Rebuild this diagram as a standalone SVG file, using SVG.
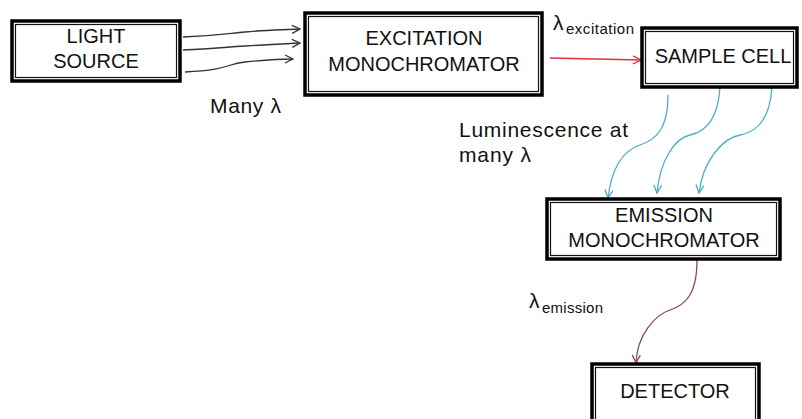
<svg xmlns="http://www.w3.org/2000/svg" width="802" height="419" viewBox="0 0 802 419">
<style>
.outer{fill:#fff;stroke:#000;stroke-width:3.5}
.inner{fill:none;stroke:#111;stroke-width:1.2}
text{font-family:"Liberation Sans",Arial,sans-serif;fill:#111}
.lbl{font-size:20px;text-anchor:middle}
.note{font-size:21px}
.lam{font-size:21px}
.sub{font-size:15px}
.c{fill:none;stroke-width:1.3}
</style>
<defs>
<marker id="ak" viewBox="0 0 10 10" refX="9" refY="5" markerWidth="10" markerHeight="10" markerUnits="userSpaceOnUse" orient="auto"><path d="M1,1 L9,5 L1,9" fill="none" stroke="#333" stroke-width="1.3"/></marker>
<marker id="ar" viewBox="0 0 10 10" refX="9" refY="5" markerWidth="10" markerHeight="10" markerUnits="userSpaceOnUse" orient="auto"><path d="M1,1 L9,5 L1,9" fill="none" stroke="#e0323c" stroke-width="1.3"/></marker>
<marker id="ab" viewBox="0 0 10 10" refX="9" refY="5" markerWidth="10" markerHeight="10" markerUnits="userSpaceOnUse" orient="auto"><path d="M1,1 L9,5 L1,9" fill="none" stroke="#4badc6" stroke-width="1.3"/></marker>
<marker id="am" viewBox="0 0 10 10" refX="9" refY="5" markerWidth="10" markerHeight="10" markerUnits="userSpaceOnUse" orient="auto"><path d="M1,1 L9,5 L1,9" fill="none" stroke="#8a4b5a" stroke-width="1.3"/></marker>
</defs>

<g id="connectors">
<path class="c" stroke="#333" marker-end="url(#ak)" d="M183,37 C215,36 225,34 245,32 S280,30 300,29"/>
<path class="c" stroke="#333" marker-end="url(#ak)" d="M183,50 C215,49 225,47 245,46 S280,44 300,43"/>
<path class="c" stroke="#333" marker-end="url(#ak)" d="M185,72 C230,70 225,64 245,62 S275,59 293,59"/>
<path class="c" stroke="#e0323c" marker-end="url(#ar)" d="M550,58 L641,60"/>
<path class="c" stroke="#4badc6" marker-end="url(#ab)" d="M668,95 C668,130 655,140 640,145 S612,165 608,198"/>
<path class="c" stroke="#4badc6" marker-end="url(#ab)" d="M720,87 C718,120 705,132 690,135 S660,160 657,193"/>
<path class="c" stroke="#4badc6" marker-end="url(#ab)" d="M772,87 C770,120 757,132 740,135 S703,160 699,193"/>
<path class="c" stroke="#8a4b5a" marker-end="url(#am)" d="M697,260 C697,295 685,305 670,310 S637,335 636,363"/>
</g>

<g id="light-source">
<rect class="outer" x="12" y="21" width="168" height="60"/>
<rect class="inner" x="15.5" y="24.5" width="161" height="53"/>
<text class="lbl" x="96" y="43">LIGHT</text>
<text class="lbl" x="96" y="68">SOURCE</text>
</g>

<g id="excitation-monochromator">
<rect class="outer" x="305" y="13" width="237" height="82"/>
<rect class="inner" x="308.5" y="16.5" width="230" height="75"/>
<text class="lbl" x="424" y="45">EXCITATION</text>
<text class="lbl" x="424" y="71">MONOCHROMATOR</text>
</g>

<g id="sample-cell">
<rect class="outer" x="642" y="28" width="155" height="59"/>
<rect class="inner" x="645.5" y="31.5" width="148" height="52"/>
<text class="lbl" x="723" y="63">SAMPLE CELL</text>
</g>

<g id="emission-monochromator">
<rect class="outer" x="547" y="199" width="233" height="60"/>
<rect class="inner" x="550.5" y="202.5" width="226" height="53"/>
<text class="lbl" x="664" y="222">EMISSION</text>
<text class="lbl" x="664" y="247">MONOCHROMATOR</text>
</g>

<g id="detector">
<rect class="outer" x="592" y="364" width="167" height="70"/>
<rect class="inner" x="595.5" y="367.5" width="160" height="63"/>
<text class="lbl" x="675" y="398">DETECTOR</text>
</g>

<g id="labels">
<text class="note" x="210" y="113" textLength="71">Many λ</text>
<text class="lam" x="553" y="30">λ</text>
<text class="sub" x="566" y="34" textLength="68">excitation</text>
<text class="note" x="459" y="137" textLength="169">Luminescence at</text>
<text class="note" x="459" y="162" textLength="72">many λ</text>
<text class="lam" x="529" y="308">λ</text>
<text class="sub" x="542" y="313" textLength="61">emission</text>
</g>
</svg>
